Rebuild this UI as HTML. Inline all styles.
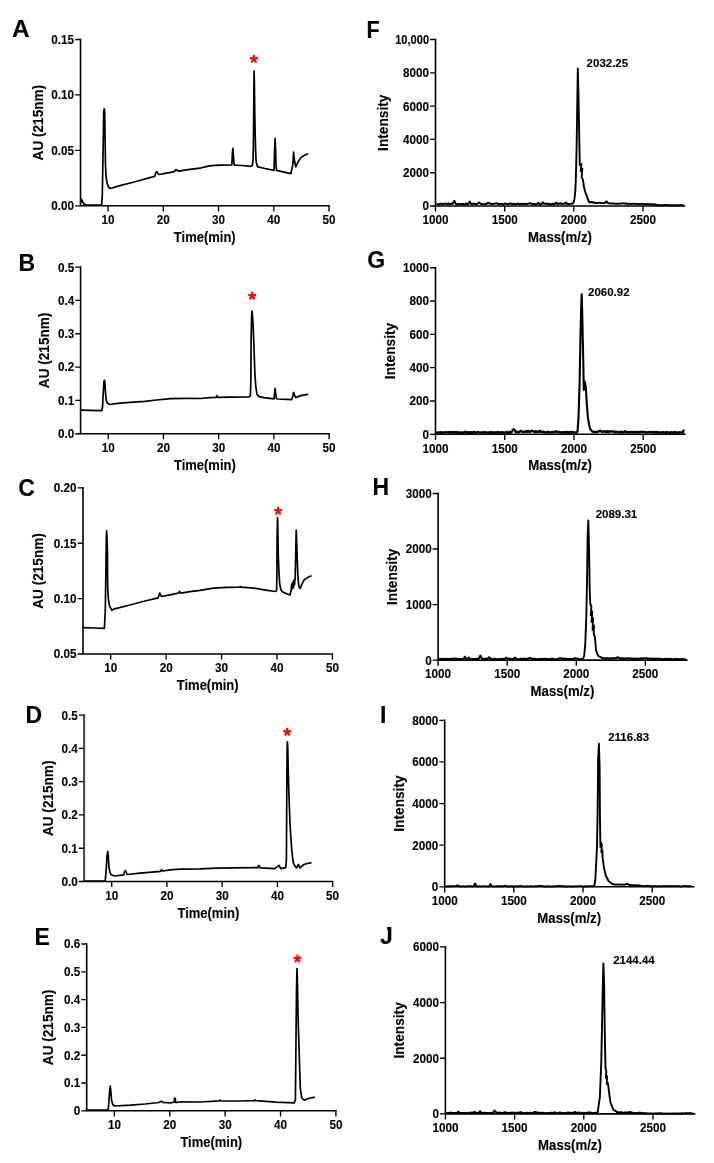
<!DOCTYPE html><html><head><meta charset="utf-8"><title>Figure</title><style>html,body{margin:0;padding:0;background:#fff;}svg{display:block;}text{font-family:"Liberation Sans", sans-serif;font-weight:bold;fill:#000;stroke:#000;stroke-width:0.12px;filter:grayscale(1);}</style></head><body>
<svg width="714" height="1163" viewBox="0 0 714 1163">
<rect width="714" height="1163" fill="#fff"/>
<g><path d="M80.5 39.5V205.8H329" fill="none" stroke="#000" stroke-width="1.6" stroke-linejoin="miter" stroke-linecap="square"/><text transform="translate(74.1 210.2) scale(1 1.03)" font-size="11.7" text-anchor="end">0.00</text><text transform="translate(74.1 154.77) scale(1 1.03)" font-size="11.7" text-anchor="end">0.05</text><text transform="translate(74.1 99.33) scale(1 1.03)" font-size="11.7" text-anchor="end">0.10</text><text transform="translate(74.1 43.9) scale(1 1.03)" font-size="11.7" text-anchor="end">0.15</text><text transform="translate(108.11 224.1) scale(1 1.03)" font-size="11.7" text-anchor="middle">10</text><text transform="translate(163.33 224.1) scale(1 1.03)" font-size="11.7" text-anchor="middle">20</text><text transform="translate(218.56 224.1) scale(1 1.03)" font-size="11.7" text-anchor="middle">30</text><text transform="translate(273.78 224.1) scale(1 1.03)" font-size="11.7" text-anchor="middle">40</text><text transform="translate(329 224.1) scale(1 1.03)" font-size="11.7" text-anchor="middle">50</text><path d="M75.1 205.8H80.5M75.1 150.37H80.5M75.1 94.93H80.5M75.1 39.5H80.5M108.11 205.8V211.4M163.33 205.8V211.4M218.56 205.8V211.4M273.78 205.8V211.4M329 205.8V211.4" fill="none" stroke="#000" stroke-width="1.35"/><text transform="translate(204.75 241.8) scale(1 1.06)" font-size="13.0" text-anchor="middle">Time(min)</text><text transform="translate(42.7 122.65) rotate(-90) scale(1 1.08)" font-size="13.6" text-anchor="middle">AU (215nm)</text><text transform="translate(12 37.1) scale(1.06 1)" font-size="23">A</text><polyline points="80.6,203 80.9,200 81.4,199.3 82.2,200.6 83,202.6 84.2,204.1 86,204.8 90,205.1 101.6,205.2 102.3,195 103.1,150 103.7,112 104.2,108.8 104.7,112 105.1,140 105.5,165.6 106.2,177.6 107.2,183.5 108.5,187 110,188.3 112,188 120,185.6 135,181.8 150,177.6 154.8,176.2 155.6,173.5 156.5,171.6 157.4,172.2 158.3,174.2 159.5,174.5 165,173.4 172,172.2 174.5,171.4 176,169.5 177.5,170.6 179,171.2 188,169.6 200,168.2 205,166.8 210,165.9 215,165.4 220.2,165.2 231.8,165 232.3,155 232.8,148.4 233.4,155 233.9,163.5 234.5,165.2 242,165.5 250.4,166.4 252.4,165.4 253,160 253.3,150 253.6,125 253.9,90 254.1,71.1 254.4,85 254.8,115 255.2,135 255.6,150 255.9,158 256.4,163 257.2,165.8 258,166.9 265,168.5 274,170.3 274.6,150 275.1,138.3 275.6,150 276,165 276.5,170.3 283,171.8 290.8,173.6 292.8,165 293.6,152.1 294.4,160 295.8,166.9 298,162 300.8,157.6 304,155.5 307.6,154" fill="none" stroke="#000" stroke-width="1.7" stroke-linejoin="round" stroke-linecap="round"/><path d="M253.9 59.1L253.9 55.9M253.9 59.1L256.94 58.11M253.9 59.1L255.78 61.69M253.9 59.1L252.02 61.69M253.9 59.1L250.86 58.11" stroke="#f00" stroke-width="2.2" stroke-linecap="round" fill="none"/></g>
<g><path d="M80.6 267.1V433.7H329.1" fill="none" stroke="#000" stroke-width="1.6" stroke-linejoin="miter" stroke-linecap="square"/><text transform="translate(74.2 438.1) scale(1 1.03)" font-size="11.7" text-anchor="end">0.0</text><text transform="translate(74.2 404.78) scale(1 1.03)" font-size="11.7" text-anchor="end">0.1</text><text transform="translate(74.2 371.46) scale(1 1.03)" font-size="11.7" text-anchor="end">0.2</text><text transform="translate(74.2 338.14) scale(1 1.03)" font-size="11.7" text-anchor="end">0.3</text><text transform="translate(74.2 304.82) scale(1 1.03)" font-size="11.7" text-anchor="end">0.4</text><text transform="translate(74.2 271.5) scale(1 1.03)" font-size="11.7" text-anchor="end">0.5</text><text transform="translate(108.21 452) scale(1 1.03)" font-size="11.7" text-anchor="middle">10</text><text transform="translate(163.43 452) scale(1 1.03)" font-size="11.7" text-anchor="middle">20</text><text transform="translate(218.66 452) scale(1 1.03)" font-size="11.7" text-anchor="middle">30</text><text transform="translate(273.88 452) scale(1 1.03)" font-size="11.7" text-anchor="middle">40</text><text transform="translate(329.1 452) scale(1 1.03)" font-size="11.7" text-anchor="middle">50</text><path d="M75.2 433.7H80.6M75.2 400.38H80.6M75.2 367.06H80.6M75.2 333.74H80.6M75.2 300.42H80.6M75.2 267.1H80.6M108.21 433.7V439.3M163.43 433.7V439.3M218.66 433.7V439.3M273.88 433.7V439.3M329.1 433.7V439.3" fill="none" stroke="#000" stroke-width="1.35"/><text transform="translate(204.85 469.7) scale(1 1.06)" font-size="13.0" text-anchor="middle">Time(min)</text><text transform="translate(49 350.4) rotate(-90) scale(1 1.08)" font-size="13.6" text-anchor="middle">AU (215nm)</text><text transform="translate(18.4 271) scale(1 1)" font-size="23">B</text><polyline points="80.5,410.1 90,410.3 101.8,410.6 102.6,406 103.4,390 104,381 104.4,380.3 104.9,382 105.4,392 106.2,399.5 106.9,402.5 109.4,404.5 120,403.2 130,402.4 144.7,401.3 156.5,400 168.2,398.8 170,398.6 185,398.4 200,398.5 210,397.6 216.2,397.3 216.8,395.6 217.4,397.3 230,397.2 248.9,397 250.4,395.8 250.9,380 251.1,340 251.6,318 252,311.1 252.5,316 253.2,326.5 254,348 254.9,373.8 255.8,386.7 257,394.4 259.2,396.6 263.9,397.6 274,398.8 274.6,393 275.1,388.4 275.6,393 276.3,398.5 277.3,399 291.6,399.7 292.8,396 293.6,392.3 294.4,395 295.8,397.6 300.8,395.6 307.6,394.3" fill="none" stroke="#000" stroke-width="1.7" stroke-linejoin="round" stroke-linecap="round"/><path d="M252.2 295.9L252.2 292.7M252.2 295.9L255.24 294.91M252.2 295.9L254.08 298.49M252.2 295.9L250.32 298.49M252.2 295.9L249.16 294.91" stroke="#f00" stroke-width="2.2" stroke-linecap="round" fill="none"/></g>
<g><path d="M83 487.9V654H332.4" fill="none" stroke="#000" stroke-width="1.6" stroke-linejoin="miter" stroke-linecap="square"/><text transform="translate(76.6 658.4) scale(1 1.03)" font-size="11.7" text-anchor="end">0.05</text><text transform="translate(76.6 603.03) scale(1 1.03)" font-size="11.7" text-anchor="end">0.10</text><text transform="translate(76.6 547.67) scale(1 1.03)" font-size="11.7" text-anchor="end">0.15</text><text transform="translate(76.6 492.3) scale(1 1.03)" font-size="11.7" text-anchor="end">0.20</text><text transform="translate(110.71 672.3) scale(1 1.03)" font-size="11.7" text-anchor="middle">10</text><text transform="translate(166.13 672.3) scale(1 1.03)" font-size="11.7" text-anchor="middle">20</text><text transform="translate(221.56 672.3) scale(1 1.03)" font-size="11.7" text-anchor="middle">30</text><text transform="translate(276.98 672.3) scale(1 1.03)" font-size="11.7" text-anchor="middle">40</text><text transform="translate(332.4 672.3) scale(1 1.03)" font-size="11.7" text-anchor="middle">50</text><path d="M77.6 654H83M77.6 598.63H83M77.6 543.27H83M77.6 487.9H83M110.71 654V659.6M166.13 654V659.6M221.56 654V659.6M276.98 654V659.6M332.4 654V659.6" fill="none" stroke="#000" stroke-width="1.35"/><text transform="translate(207.7 690) scale(1 1.06)" font-size="13.0" text-anchor="middle">Time(min)</text><text transform="translate(42.8 570.95) rotate(-90) scale(1 1.08)" font-size="13.6" text-anchor="middle">AU (215nm)</text><text transform="translate(18.3 495.5) scale(1 1)" font-size="23">C</text><polyline points="83.4,627.6 95,628 104.4,628.4 105.3,610 105.9,570 106.3,540 106.6,530.9 107,538 107.4,550.3 107.7,587.2 108.3,598 109.4,605.7 111.9,610.4 113.6,609.1 130,605 145,601 158.2,597.8 159.2,594.5 159.8,593.1 160.7,595 161.5,596.5 170,594.8 178.3,593.1 179.5,591.4 180.8,593.1 190,591.6 200,590.3 213.4,588.2 226.9,587.4 239.6,587.2 240.3,586.3 241,587.2 253.8,588.2 267.2,590.3 275.6,591.5 276.6,590.5 276.9,575 277.1,540 277.5,517.6 277.9,530 278.2,553.7 279,572.6 279.7,584 280.9,590 283.2,592.3 286.5,593.8 290,595 291.2,590 291.7,584 292.2,589 292.8,582 293.4,588 294,580 294.5,585 295.2,577 295.6,560 295.9,545 296.2,530.2 296.6,540 297.2,557.5 297.9,576.4 298.5,583 299.1,587 300.2,588.5 301.7,584.7 304,580.2 307,577.8 310.9,576" fill="none" stroke="#000" stroke-width="1.7" stroke-linejoin="round" stroke-linecap="round"/><path d="M278.1 511L278.1 507.8M278.1 511L281.14 510.01M278.1 511L279.98 513.59M278.1 511L276.22 513.59M278.1 511L275.06 510.01" stroke="#f00" stroke-width="2.2" stroke-linecap="round" fill="none"/></g>
<g><path d="M84.1 714.3V881.5" fill="none" stroke="#4a4a4a" stroke-width="2.1"/><path d="M83.8 881.5H332.6" fill="none" stroke="#000" stroke-width="1.6" stroke-linecap="square"/><text transform="translate(77.7 885.9) scale(1 1.03)" font-size="11.7" text-anchor="end">0.0</text><text transform="translate(77.7 852.62) scale(1 1.03)" font-size="11.7" text-anchor="end">0.1</text><text transform="translate(77.7 819.34) scale(1 1.03)" font-size="11.7" text-anchor="end">0.2</text><text transform="translate(77.7 786.06) scale(1 1.03)" font-size="11.7" text-anchor="end">0.3</text><text transform="translate(77.7 752.78) scale(1 1.03)" font-size="11.7" text-anchor="end">0.4</text><text transform="translate(77.7 719.5) scale(1 1.03)" font-size="11.7" text-anchor="end">0.5</text><text transform="translate(111.71 899.8) scale(1 1.03)" font-size="11.7" text-anchor="middle">10</text><text transform="translate(166.93 899.8) scale(1 1.03)" font-size="11.7" text-anchor="middle">20</text><text transform="translate(222.16 899.8) scale(1 1.03)" font-size="11.7" text-anchor="middle">30</text><text transform="translate(277.38 899.8) scale(1 1.03)" font-size="11.7" text-anchor="middle">40</text><text transform="translate(332.6 899.8) scale(1 1.03)" font-size="11.7" text-anchor="middle">50</text><path d="M78.7 881.5H84.1M78.7 848.22H84.1M78.7 814.94H84.1M78.7 781.66H84.1M78.7 748.38H84.1M78.7 715.1H84.1M111.71 881.5V887.1M166.93 881.5V887.1M222.16 881.5V887.1M277.38 881.5V887.1M332.6 881.5V887.1" fill="none" stroke="#000" stroke-width="1.35"/><text transform="translate(208.35 917.5) scale(1 1.06)" font-size="13.0" text-anchor="middle">Time(min)</text><text transform="translate(53 798.3) rotate(-90) scale(1 1.08)" font-size="13.6" text-anchor="middle">AU (215nm)</text><text transform="translate(25.6 723.2) scale(1 1)" font-size="23">D</text><polyline points="84,881 95,881 105.2,881 106.2,870 107,856 107.7,851.3 108.3,856 108.9,867.2 110,872.5 111.1,874.8 114.5,876 123.7,874.8 124.6,871.5 125.4,870.6 126.2,872 127.1,874.5 140,873.2 160.7,871.4 161.5,869.7 162.5,871 172.4,869.7 180.8,869.2 200,868.9 216.8,868.2 233.6,867.9 258,867.6 258.8,865.4 260.5,867.9 274.8,868.7 279,865.4 280.7,868.7 285.7,867.6 286.4,860 286.8,790 287.1,750 287.4,741.8 287.8,748 288.2,770 288.7,787.2 289.3,805 289.9,820.8 290.7,835 291.6,847.7 292.4,856 293.3,862.9 295,866.2 296.6,867.9 298.3,864.5 300,867.9 302,866 304.2,864.5 307,863.5 310.9,862.9" fill="none" stroke="#000" stroke-width="1.7" stroke-linejoin="round" stroke-linecap="round"/><path d="M287.2 732.1L287.2 728.9M287.2 732.1L290.24 731.11M287.2 732.1L289.08 734.69M287.2 732.1L285.32 734.69M287.2 732.1L284.16 731.11" stroke="#f00" stroke-width="2.2" stroke-linecap="round" fill="none"/></g>
<g><path d="M86.7 944V1110.8H335.9" fill="none" stroke="#000" stroke-width="1.6" stroke-linejoin="miter" stroke-linecap="square"/><text transform="translate(80.3 1115.2) scale(1 1.03)" font-size="11.7" text-anchor="end">0</text><text transform="translate(80.3 1087.4) scale(1 1.03)" font-size="11.7" text-anchor="end">0.1</text><text transform="translate(80.3 1059.6) scale(1 1.03)" font-size="11.7" text-anchor="end">0.2</text><text transform="translate(80.3 1031.8) scale(1 1.03)" font-size="11.7" text-anchor="end">0.3</text><text transform="translate(80.3 1004) scale(1 1.03)" font-size="11.7" text-anchor="end">0.4</text><text transform="translate(80.3 976.2) scale(1 1.03)" font-size="11.7" text-anchor="end">0.5</text><text transform="translate(80.3 948.4) scale(1 1.03)" font-size="11.7" text-anchor="end">0.6</text><text transform="translate(114.39 1129.1) scale(1 1.03)" font-size="11.7" text-anchor="middle">10</text><text transform="translate(169.77 1129.1) scale(1 1.03)" font-size="11.7" text-anchor="middle">20</text><text transform="translate(225.14 1129.1) scale(1 1.03)" font-size="11.7" text-anchor="middle">30</text><text transform="translate(280.52 1129.1) scale(1 1.03)" font-size="11.7" text-anchor="middle">40</text><text transform="translate(335.9 1129.1) scale(1 1.03)" font-size="11.7" text-anchor="middle">50</text><path d="M81.3 1110.8H86.7M81.3 1083H86.7M81.3 1055.2H86.7M81.3 1027.4H86.7M81.3 999.6H86.7M81.3 971.8H86.7M81.3 944H86.7M114.39 1110.8V1116.4M169.77 1110.8V1116.4M225.14 1110.8V1116.4M280.52 1110.8V1116.4M335.9 1110.8V1116.4" fill="none" stroke="#000" stroke-width="1.35"/><text transform="translate(211.3 1146.8) scale(1 1.06)" font-size="13.0" text-anchor="middle">Time(min)</text><text transform="translate(53 1027.4) rotate(-90) scale(1 1.08)" font-size="13.6" text-anchor="middle">AU (215nm)</text><text transform="translate(34.4 945.2) scale(1 1)" font-size="23">E</text><polyline points="86.6,1110.2 100,1110.2 108.2,1110 109,1100 109.7,1090 110.3,1086.2 110.9,1092 111.6,1100.5 112.8,1104.5 114.5,1106 130.4,1105.2 145,1104 159,1102.5 160.3,1101.6 161.5,1101.3 163,1102.4 170.8,1103 174.2,1102 174.6,1098 175.2,1098.5 175.8,1102.5 176.6,1102.5 180.8,1101.8 200,1102 219.3,1100.8 219.8,1100 220.5,1100.8 240,1101 254.6,1100.6 255.2,1099.8 256,1100.6 275.6,1102.1 294.1,1102.9 295.4,1100 296,1040 296.5,990 297,968.5 297.5,985 298,1013.9 298.6,1034 299.2,1054.2 299.8,1073 300.3,1087.8 301.7,1097.9 304.2,1100.1 307.6,1098.7 311,1097.8 314.3,1097.4" fill="none" stroke="#000" stroke-width="1.7" stroke-linejoin="round" stroke-linecap="round"/><path d="M297.4 958.7L297.4 955.5M297.4 958.7L300.44 957.71M297.4 958.7L299.28 961.29M297.4 958.7L295.52 961.29M297.4 958.7L294.36 957.71" stroke="#f00" stroke-width="2.2" stroke-linecap="round" fill="none"/></g>
<g><path d="M435.5 39.5V206H684.5" fill="none" stroke="#000" stroke-width="1.6" stroke-linejoin="miter" stroke-linecap="square"/><text transform="translate(429.1 210.4) scale(1 1.03)" font-size="11.7" text-anchor="end">0</text><text transform="translate(429.1 177.1) scale(1 1.03)" font-size="11.7" text-anchor="end">2000</text><text transform="translate(429.1 143.8) scale(1 1.03)" font-size="11.7" text-anchor="end">4000</text><text transform="translate(429.1 110.5) scale(1 1.03)" font-size="11.7" text-anchor="end">6000</text><text transform="translate(429.1 77.2) scale(1 1.03)" font-size="11.7" text-anchor="end">8000</text><text transform="translate(429.1 43.9) scale(0.95 1.03)" font-size="11.7" text-anchor="end">10,000</text><text transform="translate(435.5 224.3) scale(1 1.03)" font-size="11.7" text-anchor="middle">1000</text><text transform="translate(504.67 224.3) scale(1 1.03)" font-size="11.7" text-anchor="middle">1500</text><text transform="translate(573.83 224.3) scale(1 1.03)" font-size="11.7" text-anchor="middle">2000</text><text transform="translate(643 224.3) scale(1 1.03)" font-size="11.7" text-anchor="middle">2500</text><path d="M430.1 206H435.5M430.1 172.7H435.5M430.1 139.4H435.5M430.1 106.1H435.5M430.1 72.8H435.5M430.1 39.5H435.5M435.5 206V211.6M504.67 206V211.6M573.83 206V211.6M643 206V211.6" fill="none" stroke="#000" stroke-width="1.35"/><text transform="translate(560 242) scale(1 1.06)" font-size="13.2" text-anchor="middle">Mass(m/z)</text><text transform="translate(387.7 122.75) rotate(-90) scale(1 1.08)" font-size="13.7" text-anchor="middle">Intensity</text><text transform="translate(366.6 37.9) scale(0.94 1)" font-size="23">F</text><text transform="translate(586.6 66.9) scale(1 0.98)" font-size="11.5">2032.25</text></g>
<g><path d="M435.5 267.7V434.3H684.7" fill="none" stroke="#000" stroke-width="1.6" stroke-linejoin="miter" stroke-linecap="square"/><text transform="translate(429.1 438.7) scale(1 1.03)" font-size="11.7" text-anchor="end">0</text><text transform="translate(429.1 405.38) scale(1 1.03)" font-size="11.7" text-anchor="end">200</text><text transform="translate(429.1 372.06) scale(1 1.03)" font-size="11.7" text-anchor="end">400</text><text transform="translate(429.1 338.74) scale(1 1.03)" font-size="11.7" text-anchor="end">600</text><text transform="translate(429.1 305.42) scale(1 1.03)" font-size="11.7" text-anchor="end">800</text><text transform="translate(429.1 272.1) scale(1 1.03)" font-size="11.7" text-anchor="end">1000</text><text transform="translate(435.5 452.6) scale(1 1.03)" font-size="11.7" text-anchor="middle">1000</text><text transform="translate(504.72 452.6) scale(1 1.03)" font-size="11.7" text-anchor="middle">1500</text><text transform="translate(573.94 452.6) scale(1 1.03)" font-size="11.7" text-anchor="middle">2000</text><text transform="translate(643.17 452.6) scale(1 1.03)" font-size="11.7" text-anchor="middle">2500</text><path d="M430.1 434.3H435.5M430.1 400.98H435.5M430.1 367.66H435.5M430.1 334.34H435.5M430.1 301.02H435.5M430.1 267.7H435.5M435.5 434.3V439.9M504.72 434.3V439.9M573.94 434.3V439.9M643.17 434.3V439.9" fill="none" stroke="#000" stroke-width="1.35"/><text transform="translate(560.1 470.3) scale(1 1.06)" font-size="13.2" text-anchor="middle">Mass(m/z)</text><text transform="translate(394.9 351) rotate(-90) scale(1 1.08)" font-size="13.7" text-anchor="middle">Intensity</text><text transform="translate(367.2 267.6) scale(1 1)" font-size="23">G</text><text transform="translate(588 296) scale(1 0.98)" font-size="11.5">2060.92</text></g>
<g><path d="M438.1 493.5V660.1H686.8" fill="none" stroke="#000" stroke-width="1.6" stroke-linejoin="miter" stroke-linecap="square"/><text transform="translate(431.7 664.5) scale(1 1.03)" font-size="11.7" text-anchor="end">0</text><text transform="translate(431.7 608.97) scale(1 1.03)" font-size="11.7" text-anchor="end">1000</text><text transform="translate(431.7 553.43) scale(1 1.03)" font-size="11.7" text-anchor="end">2000</text><text transform="translate(431.7 497.9) scale(1 1.03)" font-size="11.7" text-anchor="end">3000</text><text transform="translate(438.1 678.4) scale(1 1.03)" font-size="11.7" text-anchor="middle">1000</text><text transform="translate(507.18 678.4) scale(1 1.03)" font-size="11.7" text-anchor="middle">1500</text><text transform="translate(576.27 678.4) scale(1 1.03)" font-size="11.7" text-anchor="middle">2000</text><text transform="translate(645.35 678.4) scale(1 1.03)" font-size="11.7" text-anchor="middle">2500</text><path d="M432.7 660.1H438.1M432.7 604.57H438.1M432.7 549.03H438.1M432.7 493.5H438.1M438.1 660.1V665.7M507.18 660.1V665.7M576.27 660.1V665.7M645.35 660.1V665.7" fill="none" stroke="#000" stroke-width="1.35"/><text transform="translate(562.45 696.1) scale(1 1.06)" font-size="13.2" text-anchor="middle">Mass(m/z)</text><text transform="translate(397 576.8) rotate(-90) scale(1 1.08)" font-size="13.7" text-anchor="middle">Intensity</text><text transform="translate(372.5 495.45) scale(1 1)" font-size="23">H</text><text transform="translate(595.7 517.8) scale(1 0.98)" font-size="11.5">2089.31</text></g>
<g><path d="M444.7 720.3V886.8H693.7" fill="none" stroke="#000" stroke-width="1.6" stroke-linejoin="miter" stroke-linecap="square"/><text transform="translate(438.3 891.2) scale(1 1.03)" font-size="11.7" text-anchor="end">0</text><text transform="translate(438.3 849.57) scale(1 1.03)" font-size="11.7" text-anchor="end">2000</text><text transform="translate(438.3 807.95) scale(1 1.03)" font-size="11.7" text-anchor="end">4000</text><text transform="translate(438.3 766.32) scale(1 1.03)" font-size="11.7" text-anchor="end">6000</text><text transform="translate(438.3 724.7) scale(1 1.03)" font-size="11.7" text-anchor="end">8000</text><text transform="translate(444.7 905.1) scale(1 1.03)" font-size="11.7" text-anchor="middle">1000</text><text transform="translate(513.87 905.1) scale(1 1.03)" font-size="11.7" text-anchor="middle">1500</text><text transform="translate(583.03 905.1) scale(1 1.03)" font-size="11.7" text-anchor="middle">2000</text><text transform="translate(652.2 905.1) scale(1 1.03)" font-size="11.7" text-anchor="middle">2500</text><path d="M439.3 886.8H444.7M439.3 845.17H444.7M439.3 803.55H444.7M439.3 761.92H444.7M439.3 720.3H444.7M444.7 886.8V892.4M513.87 886.8V892.4M583.03 886.8V892.4M652.2 886.8V892.4" fill="none" stroke="#000" stroke-width="1.35"/><text transform="translate(569.2 922.8) scale(1 1.06)" font-size="13.2" text-anchor="middle">Mass(m/z)</text><text transform="translate(403.7 803.55) rotate(-90) scale(1 1.08)" font-size="13.7" text-anchor="middle">Intensity</text><text transform="translate(380.1 723.2) scale(1 1)" font-size="23">I</text><text transform="translate(608.2 741.1) scale(1 0.98)" font-size="11.5">2116.83</text></g>
<g><path d="M445.4 946.9V1113.9H694.5" fill="none" stroke="#000" stroke-width="1.6" stroke-linejoin="miter" stroke-linecap="square"/><text transform="translate(439 1118.3) scale(1 1.03)" font-size="11.7" text-anchor="end">0</text><text transform="translate(439 1062.63) scale(1 1.03)" font-size="11.7" text-anchor="end">2000</text><text transform="translate(439 1006.97) scale(1 1.03)" font-size="11.7" text-anchor="end">4000</text><text transform="translate(439 951.3) scale(1 1.03)" font-size="11.7" text-anchor="end">6000</text><text transform="translate(445.4 1132.2) scale(1 1.03)" font-size="11.7" text-anchor="middle">1000</text><text transform="translate(514.59 1132.2) scale(1 1.03)" font-size="11.7" text-anchor="middle">1500</text><text transform="translate(583.79 1132.2) scale(1 1.03)" font-size="11.7" text-anchor="middle">2000</text><text transform="translate(652.98 1132.2) scale(1 1.03)" font-size="11.7" text-anchor="middle">2500</text><path d="M440 1113.9H445.4M440 1058.23H445.4M440 1002.57H445.4M440 946.9H445.4M445.4 1113.9V1119.5M514.59 1113.9V1119.5M583.79 1113.9V1119.5M652.98 1113.9V1119.5" fill="none" stroke="#000" stroke-width="1.35"/><text transform="translate(569.95 1149.9) scale(1 1.06)" font-size="13.2" text-anchor="middle">Mass(m/z)</text><text transform="translate(404.4 1030.4) rotate(-90) scale(1 1.08)" font-size="13.7" text-anchor="middle">Intensity</text><text transform="translate(380 944.35) scale(1 1)" font-size="23">J</text><rect x="383.6" y="926.5" width="3.5" height="4.9" fill="#fff"/><text transform="translate(613.2 963.9) scale(1 0.98)" font-size="11.5">2144.44</text></g>
<polyline points="436.3,203.72 436.8,203.8 437.3,204.09 437.8,204.22 438.3,204.31 438.8,204.14 439.3,204.32 439.8,204.22 440.3,203.8 440.8,203.84 441.3,203.55 441.8,204.07 442.3,204.4 442.8,204.11 443.3,203.91 443.8,204.16 444.3,203.86 444.8,203.66 445.3,203.55 445.8,203.61 446.3,203.86 446.8,204.27 447.3,203.79 447.8,203.76 448.3,203.26 448.8,203.68 449.3,204.25 449.8,204 450.3,204.14 450.8,203.79 451.3,203.48 451.8,203.61 452.3,203.95 452.8,203.82 453.3,202.73 453.8,201.49 454.3,200.81 454.8,201.39 455.3,202.93 455.8,203.87 456.3,204.35 456.8,203.93 457.3,204 457.8,204.37 458.3,204.31 458.8,204.36 459.3,204.43 459.8,204.27 460.3,203.99 460.8,204.07 461.3,204.06 461.8,203.91 462.3,204.23 462.8,204.03 463.3,204 463.8,204.21 464.3,204.37 464.8,204.5 465.3,204.23 465.8,203.39 466.3,203.32 466.8,203.84 467.3,204.27 467.8,204.44 468.3,204.09 468.8,203.3 469.3,202.2 469.8,201.45 470.3,202.5 470.8,203.77 471.3,203.82 471.8,204.14 472.3,204.25 472.8,203.85 473.3,203.56 473.8,203.81 474.3,203.66 474.8,203.65 475.3,203.88 475.8,204.05 476.3,204.23 476.8,204.19 477.3,203.97 477.8,203.5 478.3,203.01 478.8,202.45 479.3,202.49 479.8,203.21 480.3,203.49 480.8,203.72 481.3,204.2 481.8,204.04 482.3,204.2 482.8,204.21 483.3,204.25 483.8,204.13 484.3,204.12 484.8,204.23 485.3,203.87 485.8,204.15 486.3,204.35 486.8,203.69 487.3,203.2 487.8,202.84 488.3,202.72 488.8,202.96 489.3,203.59 489.8,203.52 490.3,203.38 490.8,203.98 491.3,203.91 491.8,203.98 492.3,203.97 492.8,203.86 493.3,203.88 493.8,203.68 494.3,203.87 494.8,203.72 495.3,203.52 495.8,203.34 496.3,203.2 496.8,203.45 497.3,203.51 497.8,204.1 498.3,204.07 498.8,203.91 499.3,204.12 499.8,203.83 500.3,204.29 500.8,204.09 501.3,203.87 501.8,203.74 502.3,203.69 502.8,204.16 503.3,204.49 503.8,204.34 504.3,203.99 504.8,203.61 505.3,203.43 505.8,203.5 506.3,203.81 506.8,203.99 507.3,204.27 507.8,204.4 508.3,204.05 508.8,204 509.3,203.66 509.8,203.65 510.3,203.33 510.8,203.93 511.3,203.62 511.8,203.92 512.3,203.85 512.8,204.16 513.3,203.81 513.8,204.2 514.3,203.73 514.8,204.02 515.3,204.17 515.8,204.11 516.3,203.81 516.8,203.79 517.3,203.83 517.8,203.67 518.3,203.53 518.8,203.99 519.3,204.03 519.8,203.84 520.3,204 520.8,204.11 521.3,203.78 521.8,203.93 522.3,204.03 522.8,203.71 523.3,203.67 523.8,204.09 524.3,204.12 524.8,203.85 525.3,203.83 525.8,203.86 526.3,204.08 526.8,204.34 527.3,203.87 527.8,203.57 528.3,203.69 528.8,203.44 529.3,203.39 529.8,203.32 530.3,203.27 530.8,203.66 531.3,203.48 531.8,203.74 532.3,204.21 532.8,203.84 533.3,204.11 533.8,204.13 534.3,203.82 534.8,204.25 535.3,204.34 535.8,204.11 536.3,204.37 536.8,203.88 537.3,204.01 537.8,203.74 538.3,202.79 538.8,203.22 539.3,203.85 539.8,204.42 540.3,204.14 540.8,204.27 541.3,204.29 541.8,203.68 542.3,202.72 542.8,202.25 543.3,202.9 543.8,203.57 544.3,203.56 544.8,203.86 545.3,203.57 545.8,203.72 546.3,203.84 546.8,203.67 547.3,203.44 547.8,203.99 548.3,204.27 548.8,204.23 549.3,203.77 549.8,203.88 550.3,204.29 550.8,204.39 551.3,204.38 551.8,203.86 552.3,203.98 552.8,203.78 553.3,204.25 553.8,203.76 554.3,203.63 554.8,204.04 555.3,203.5 555.8,202.99 556.3,202.57 556.8,203.2 557.3,203.81 557.8,204.37 558.3,204.02 558.8,203.63 559.3,203.37 559.8,203.22 560.3,203.01 560.8,203.6 561.3,204.1 561.8,203.85 562.3,203.8 562.8,203.65 563.3,203.6 563.8,203.89 564.3,203.85 564.8,203.87 565.3,202.83 565.8,202.62 566.3,202.39 566.8,203.36 567.3,204.12 567.8,203.8 568.3,203.93 568.8,204.34 569.3,203.81 569.8,203.88 570.3,203.87 570.8,203.83 571.3,203.66 571.8,203.54 572.3,203.54 572.5,203.8 573.5,202.6 574.4,199.5 575.3,191.2 575.8,180 576.2,165 576.6,148 577,122 577.4,95 577.8,68.4 578.4,92 578.9,118 579.3,140 579.6,155 579.8,165 581.5,164 580.6,171 582.4,168.5 581.6,177.5 582.8,179.2 584,187 585,191.2 586.5,195.4 587.7,199 589.2,202.4 591.9,202 594.9,203 594.9,202.8 595.4,202.76 595.9,202.97 596.4,202.84 596.9,203.09 597.4,202.98 597.9,202.81 598.4,202.9 598.9,202.84 599.4,202.74 599.9,202.81 600.4,202.93 600.9,202.89 601.4,203.16 601.9,203.08 602.4,203.22 602.9,203.15 603.4,203 603.9,203.06 604.4,203.14 604.9,202.9 605.4,202.44 605.9,201.65 606.4,201.36 606.9,201.73 607.4,202.49 607.9,203.16 608.4,203.26 608.9,203.46 609.4,203.26 609.9,203.19 610.4,203.35 610.9,203.5 611.4,203.6 611.9,203.38 612.4,203.42 612.9,203.32 613.4,203.49 613.9,203.52 614.4,203.6 614.9,203.69 615.4,203.83 615.9,203.7 616.4,203.86 616.9,203.64 617.4,203.78 617.9,203.53 618.4,203.65 618.9,203.8 619.4,203.74 619.9,203.59 620.4,203.66 620.9,203.64 621.4,203.55 621.9,203.34 622.4,203.35 622.9,203.22 623.4,203.43 623.9,203.49 624.4,203.68 624.9,203.51 625.4,203.59 625.9,203.5 626.4,203.55 626.9,203.86 627.4,203.96 627.9,203.97 628.4,203.86 628.9,203.68 629.4,203.55 629.9,203.7 630.4,203.99 630.9,204.06 631.4,203.87 631.9,204.1 632.4,203.92 632.9,203.73 633.4,203.83 633.9,203.86 634.4,203.72 634.9,204.02 635.4,203.92 635.9,203.92 636.4,203.76 636.9,203.66 637.4,204.02 637.9,204.25 638.4,204.24 638.9,203.98 639.4,203.88 639.9,203.82 640.4,203.73 640.9,204.03 641.4,204.06 641.9,203.9 642.4,203.91 642.9,204.01 643.4,204.1 643.9,204.15 644.4,204.02 644.9,204.25 645.4,204.07 645.9,204.13 646.4,204.29 646.9,204.12 647.4,203.98 647.9,204.33 648.4,204.42 648.9,204.25 649.4,204.36 649.9,204.19 650.4,204.41 650.9,204.2 651.4,204.11 651.9,204.11 652.4,204.29 652.9,204.52 653.4,204.38 653.9,204.53 654.4,204.47 654.9,204.46 655.4,204.56 655.9,204.43 656.4,205.25 656.9,205.16 657.4,205.03 657.9,205.16 658.4,205.18 658.9,204.99 659.4,205.27 659.9,205.36 660.4,205.27 660.9,205.37 661.4,205.42 661.9,205.13 662.4,204.96 662.9,205.05 663.4,205.08 663.9,205.2 664.4,205.05 664.9,204.95 665.4,205 665.9,205.29 666.4,205.04 666.9,205.31 667.4,205.31 667.9,205.2 668.4,205.02 668.9,205.07 669.4,205.09 669.9,204.94 670.4,205 670.9,205.27 671.4,205.44 671.9,205.43 672.4,205.29 672.9,205.42 673.4,205.13 673.9,205.25 674.4,205.32 674.9,205.12 675.4,205.09 675.9,205.1 676.4,205.27 676.9,205.28 677.4,205.13 677.9,205.3 678.4,205.25 678.9,205.36 679.4,205.23 679.9,205.15 680.4,205.1 680.9,204.99 681.4,205.19 681.9,205.26 682.4,205.19 682.9,205.24 683.4,205.31 683.9,205.47" fill="none" stroke="#000" stroke-width="1.9" stroke-linejoin="round"/>
<polyline points="436.3,432.69 436.65,432.27 437,433.06 437.35,433.17 437.7,432.67 438.05,432.8 438.4,432.31 438.75,432.22 439.1,432.28 439.45,432.75 439.8,432.3 440.15,433.06 440.5,432.2 440.85,432.17 441.2,432.04 441.55,432.78 441.9,432.48 442.25,432.53 442.6,432.38 442.95,432.7 443.3,432.5 443.65,432.24 444,432.43 444.35,432.32 444.7,432.04 445.05,432.65 445.4,432.38 445.75,432.09 446.1,432.27 446.45,431.97 446.8,432.14 447.15,432.36 447.5,432.42 447.85,432.74 448.2,432.05 448.55,432.43 448.9,432.58 449.25,432.4 449.6,432 449.95,432.69 450.3,432.04 450.65,432.54 451,432.17 451.35,431.96 451.7,432.09 452.05,431.98 452.4,432.05 452.75,432.66 453.1,432.81 453.45,432.32 453.8,432.34 454.15,431.9 454.5,431.76 454.85,432.32 455.2,432.06 455.55,432.81 455.9,432.81 456.25,432.82 456.6,432.05 456.95,431.99 457.3,431.91 457.65,432.25 458,433 458.35,433.06 458.7,433.04 459.05,432.22 459.4,432.72 459.75,432.89 460.1,432.97 460.45,432.96 460.8,432.23 461.15,432.12 461.5,432.79 461.85,432.86 462.2,433.05 462.55,432.58 462.9,432.99 463.25,432.22 463.6,432.97 463.95,432.96 464.3,432.18 464.65,431.54 465,431.89 465.35,432.25 465.7,432.13 466.05,431.91 466.4,432.15 466.75,432.82 467.1,432.13 467.45,432.95 467.8,432.33 468.15,432.16 468.5,432.02 468.85,432.97 469.2,433.07 469.55,432.43 469.9,432.05 470.25,432.61 470.6,432.98 470.95,432.07 471.3,432.58 471.65,432.94 472,432.56 472.35,432.6 472.7,432.82 473.05,432.08 473.4,431.71 473.75,431.82 474.1,431.72 474.45,431.92 474.8,432.01 475.15,432.86 475.5,432.34 475.85,432.68 476.2,432.99 476.55,432.5 476.9,432.01 477.25,432.1 477.6,431.94 477.95,432 478.3,431.98 478.65,432.23 479,432.31 479.35,432.41 479.7,432.67 480.05,432.74 480.4,432.76 480.75,432.4 481.1,432.67 481.45,432.59 481.8,432.1 482.15,432.47 482.5,432.29 482.85,432.66 483.2,432.8 483.55,432.27 483.9,432.38 484.25,432.42 484.6,432.25 484.95,431.93 485.3,431.87 485.65,432.93 486,432.85 486.35,432.5 486.7,432.68 487.05,432.27 487.4,432.68 487.75,433.04 488.1,432.91 488.45,432.53 488.8,433.04 489.15,433.07 489.5,432.11 489.85,432.31 490.2,432.4 490.55,432.21 490.9,432.56 491.25,432.1 491.6,432.68 491.95,432.92 492.3,432.07 492.65,432.61 493,432.24 493.35,432.59 493.7,432.71 494.05,433.06 494.4,432.93 494.75,432.38 495.1,432.71 495.45,432.12 495.8,432.64 496.15,432.41 496.5,432.19 496.85,432.12 497.2,432.08 497.55,432.72 497.9,432.06 498.25,432.08 498.6,432.04 498.95,431.99 499.3,432.62 499.65,432.59 500,432.67 500.35,432.95 500.7,432.49 501.05,431.94 501.4,431.99 501.75,432.37 502.1,432.67 502.45,432.96 502.8,432.55 503.15,432.15 503.5,432.48 503.85,432.93 504.2,432.34 504.55,432.89 504.9,432.97 505.25,432.61 505.6,432.43 505.95,431.99 506.3,431.88 506.65,431.77 507,432.39 507.35,432.62 507.7,432.98 508.05,432.61 508.4,432.97 508.75,432.37 509.1,431.94 509.45,431.76 509.8,431.98 510.15,432.28 510.5,432.84 510.85,432.14 511.2,431.86 511.55,432.19 511.9,431.57 512.25,431.15 512.6,429.98 512.95,429.91 513.3,429.53 513.65,429.2 514,429.67 514.35,429.66 514.7,429.96 515.05,430.84 515.4,432.01 515.75,431.93 516.1,431.68 516.45,431.59 516.8,431.58 517.15,431.88 517.5,432.47 517.85,432.52 518.2,432.38 518.55,432.33 518.9,431.66 519.25,432.14 519.6,431.53 519.95,431.6 520.3,430.84 520.65,431.47 521,430.67 521.35,431.13 521.7,431.48 522.05,431.7 522.4,431.88 522.75,431.59 523.1,432.01 523.45,432.24 523.8,431.92 524.15,432.25 524.5,432.15 524.85,431.23 525.2,431.72 525.55,431.16 525.9,431.68 526.25,431.44 526.6,431.93 526.95,431.11 527.3,431.95 527.65,431.1 528,430.94 528.35,430.84 528.7,430.95 529.05,431.94 529.4,431.97 529.75,432.06 530.1,431.23 530.45,431.58 530.8,431.65 531.15,431.4 531.5,430.61 531.85,431.12 532.2,431.01 532.55,431.14 532.9,430.94 533.25,431.2 533.6,431.74 533.95,431.61 534.3,431.57 534.65,432.06 535,431.6 535.35,432.02 535.7,431.2 536.05,431.59 536.4,431.89 536.75,431.17 537.1,431.81 537.45,431.49 537.8,431.82 538.15,431.88 538.5,431.32 538.85,432.04 539.2,431.27 539.55,430.87 539.9,431.08 540.25,430.77 540.6,430.9 540.95,431.83 541.3,431.38 541.65,431.85 542,432.36 542.35,431.99 542.7,432.34 543.05,432.44 543.4,431.72 543.75,431.49 544.1,432.26 544.45,432.51 544.8,432.56 545.15,432.43 545.5,432.18 545.85,432.65 546.2,432.51 546.55,432.51 546.9,432.69 547.25,431.77 547.6,432.37 547.95,432.32 548.3,431.68 548.65,431.83 549,432.38 549.35,432.29 549.7,432.32 550.05,432.02 550.4,432.28 550.75,432.69 551.1,432.89 551.45,432.45 551.8,432.57 552.15,431.87 552.5,431.8 552.85,432.26 553.2,432.65 553.55,431.94 553.9,431.82 554.25,432.17 554.6,431.96 554.95,431.59 555.3,431.35 555.65,431.43 556,431.81 556.35,431.3 556.7,432.11 557.05,431.63 557.4,431.84 557.75,432.4 558.1,431.78 558.45,432.02 558.8,431.87 559.15,431.93 559.5,432.68 559.85,432.01 560.2,432.51 560.55,432.83 560.9,432.14 561.25,432.7 561.6,432.2 561.95,432.61 562.3,432.47 562.65,432.19 563,432.73 563.35,432.63 563.7,432.18 564.05,432.38 564.4,432.1 564.75,432.04 565.1,432.76 565.45,432.95 565.8,432.06 566.15,432.74 566.5,432.65 566.85,431.83 567.2,431.78 567.55,432.14 567.9,432.72 568.25,432.82 568.6,432.14 568.95,432.22 569.3,432.78 569.65,432.08 570,431.82 570.35,432.12 570.7,432.48 571.05,432.77 571.4,432.83 571.75,431.86 572.1,431.86 572.45,431.8 572.8,432.31 573.15,432.2 573.5,432.76 573.85,432.53 574.2,432.48 574.55,432.55 574.9,432.02 575.25,432.69 575.6,432.79 575.95,432.76 576.3,432.71 576.65,432.01 577,431.74 577,432.4 577.6,430.6 578.5,417.6 579.6,383.2 580.5,335 581.1,310 581.7,294.4 582.2,312 582.7,335 583.3,362.5 583.8,390 584.3,385 584.9,381.8 585.8,387.3 586.8,403.8 587.9,417.6 589.3,425.8 590.5,429.6 592,430.8 592,431.48 592.35,431.68 592.7,431.35 593.05,431.59 593.4,432.17 593.75,432.21 594.1,431.96 594.45,432.23 594.8,431.93 595.15,432.33 595.5,432.12 595.85,431.54 596.2,431.89 596.55,431.85 596.9,431.9 597.25,431.53 597.6,431.99 597.95,431.49 598.3,431.47 598.65,431.33 599,431.21 599.35,430.92 599.7,431.37 600.05,431.33 600.4,430.68 600.75,431.3 601.1,430.98 601.45,431.61 601.8,431.48 602.15,431.6 602.5,431.86 602.85,431.92 603.2,431.81 603.55,431.34 603.9,431.01 604.25,431.49 604.6,431.52 604.95,431.93 605.3,432 605.65,431.23 606,431.33 606.35,431.69 606.7,431.43 607.05,432.01 607.4,431.06 607.75,431.33 608.1,431.88 608.45,432.12 608.8,431.68 609.15,431.32 609.5,431.65 609.85,431.42 610.2,431.81 610.55,431.46 610.9,431.17 611.25,431.45 611.6,431.62 611.95,431.31 612.3,431.44 612.65,431.59 613,431.7 613.35,431.23 613.7,431.6 614.05,432.26 614.4,432.01 614.75,432.28 615.1,432.54 615.45,431.57 615.8,432.17 616.15,432.03 616.5,431.47 616.85,431.61 617.2,431.96 617.55,432 617.9,432.48 618.25,432 618.6,432.4 618.95,432.06 619.3,432.6 619.65,432.75 620,431.87 620.35,432.44 620.7,431.76 621.05,431.88 621.4,432.53 621.75,432.15 622.1,431.61 622.45,431.49 622.8,432.57 623.15,432.63 623.5,432.73 623.85,431.98 624.2,431.68 624.55,431.93 624.9,431.21 625.25,431.72 625.6,431.44 625.95,431.55 626.3,432.29 626.65,431.9 627,432.68 627.35,432.48 627.7,432.36 628.05,432.39 628.4,431.94 628.75,432.66 629.1,431.78 629.45,432.58 629.8,432.32 630.15,432.34 630.5,432.28 630.85,432.1 631.2,431.81 631.55,431.97 631.9,432.32 632.25,432.03 632.6,432.51 632.95,432.5 633.3,431.75 633.65,431.67 634,432.51 634.35,432.32 634.7,431.84 635.05,432.19 635.4,432.28 635.75,432.48 636.1,432.26 636.45,432.73 636.8,431.79 637.15,432.59 637.5,432.55 637.85,432.17 638.2,431.79 638.55,431.76 638.9,432.38 639.25,432.47 639.6,432.33 639.95,431.8 640.3,431.72 640.65,432.14 641,431.8 641.35,431.94 641.7,431.67 642.05,431.84 642.4,432.24 642.75,432.61 643.1,431.8 643.45,431.96 643.8,432.03 644.15,431.92 644.5,432.11 644.85,431.69 645.2,431.82 645.55,431.93 645.9,432.62 646.25,432.13 646.6,432.48 646.95,432.63 647.3,432.58 647.65,432.28 648,432.09 648.35,432.29 648.7,432.15 649.05,432.06 649.4,432.12 649.75,431.77 650.1,432.32 650.45,432.2 650.8,431.8 651.15,432.03 651.5,431.77 651.85,432.21 652.2,432.36 652.55,432.86 652.9,432.04 653.25,432.35 653.6,432.67 653.95,432.11 654.3,432.24 654.65,432.41 655,431.92 655.35,432.2 655.7,432.77 656.05,432.89 656.4,432.92 656.75,431.92 657.1,432.46 657.45,432.64 657.8,432.2 658.15,432.03 658.5,432.49 658.85,432.22 659.2,432.8 659.55,432.25 659.9,432.76 660.25,432.67 660.6,432.3 660.95,432.6 661.3,432.87 661.65,432.73 662,432.2 662.35,431.91 662.7,432.39 663.05,432.68 663.4,432.57 663.75,432.13 664.1,432.51 664.45,432.65 664.8,432.32 665.15,432.6 665.5,432.63 665.85,432.96 666.2,431.97 666.55,432.83 666.9,432.74 667.25,432.06 667.6,431.96 667.95,432.18 668.3,432.49 668.65,432.52 669,432.34 669.35,432.81 669.7,432.52 670.05,432.55 670.4,432.68 670.75,432.86 671.1,432.13 671.45,431.9 671.8,432.29 672.15,432.78 672.5,432.95 672.85,432.58 673.2,432.07 673.55,432.52 673.9,432.85 674.25,432.81 674.6,432.15 674.95,431.88 675.3,432.29 675.65,432.13 676,432.19 676.35,432.68 676.7,432.8 677.05,432.61 677.4,432.96 677.75,432.8 678.1,432.15 678.45,432.29 678.8,432.21 679.15,432.97 679.5,432.49 679.85,432.22 680.2,432.82 680.55,433.06 680.9,432.44 681.25,432.24 681.6,432.23 681.95,431.92 682.3,432.54 682.65,431.96 683,432.94 683.35,430.74 683.7,430.26 684.05,430.39 684.4,430.69" fill="none" stroke="#000" stroke-width="2.1" stroke-linejoin="round"/>
<polyline points="439,658.71 439.5,658.85 440,658.7 440.5,658.89 441,658.95 441.5,658.87 442,658.94 442.5,658.96 443,658.7 443.5,658.79 444,658.9 444.5,658.91 445,659.11 445.5,659.15 446,658.98 446.5,658.81 447,658.65 447.5,658.91 448,659.01 448.5,659.02 449,658.94 449.5,658.93 450,658.77 450.5,658.84 451,658.68 451.5,658.83 452,658.93 452.5,659 453,658.82 453.5,658.58 454,658.44 454.5,658.39 455,658.28 455.5,658.55 456,658.71 456.5,658.8 457,659.08 457.5,658.84 458,658.71 458.5,658.83 459,658.93 459.5,658.88 460,658.92 460.5,658.88 461,658.98 461.5,659.15 462,659.22 462.5,659.17 463,659.04 463.5,659.1 464,658.33 464.5,657.04 465,656.63 465.5,657.69 466,658.61 466.5,659.04 467,659.05 467.5,659.05 468,658.41 468.5,657.57 469,657.86 469.5,658.54 470,658.87 470.5,659.17 471,659.3 471.5,658.97 472,658.72 472.5,658.98 473,659.15 473.5,658.99 474,658.82 474.5,658.95 475,659.16 475.5,658.91 476,658.88 476.5,658.97 477,658.8 477.5,658.79 478,658.64 478.5,658.68 479,658.26 479.5,657.08 480,655.76 480.5,655.5 481,656.74 481.5,657.93 482,658.51 482.5,658.61 483,658.85 483.5,658.83 484,658.72 484.5,658.63 485,658.63 485.5,658.87 486,658.72 486.5,658.77 487,658.97 487.5,659.01 488,658.46 488.5,657.76 489,657.23 489.5,657.5 490,658.13 490.5,658.48 491,658.86 491.5,658.82 492,659.03 492.5,659.23 493,659.32 493.5,659.13 494,658.78 494.5,658.71 495,658.64 495.5,658.82 496,658.96 496.5,659.16 497,659.16 497.5,659.3 498,659.21 498.5,659.07 499,659.18 499.5,658.95 500,659.08 500.5,659.13 501,659.23 501.5,658.87 502,658.71 502.5,659.03 503,658.79 503.5,658.8 504,658.87 504.5,658.74 505,658.58 505.5,658.17 506,657.63 506.5,657.69 507,658.53 507.5,658.82 508,658.78 508.5,658.65 509,658.49 509.5,658.7 510,658.66 510.5,658.79 511,659.06 511.5,658.99 512,659.19 512.5,658.84 513,658.95 513.5,658.84 514,658.52 514.5,657.59 515,657.54 515.5,658.06 516,658.63 516.5,658.85 517,658.78 517.5,659.05 518,659.19 518.5,659.18 519,659.31 519.5,659.17 520,658.84 520.5,658.97 521,658.73 521.5,658.93 522,659 522.5,658.8 523,658.66 523.5,658.53 524,658.51 524.5,658.92 525,658.77 525.5,659.02 526,658.78 526.5,658.74 527,658.79 527.5,658.75 528,659.01 528.5,658.69 529,658.47 529.5,658.05 530,657.79 530.5,658.14 531,658.36 531.5,658.64 532,658.9 532.5,658.7 533,658.55 533.5,658.79 534,659.09 534.5,658.76 535,658.79 535.5,659.1 536,659.19 536.5,659.33 537,659.18 537.5,659.31 538,658.91 538.5,658.89 539,659.08 539.5,658.95 540,658.9 540.5,658.87 541,658.82 541.5,659.02 542,659.22 542.5,658.94 543,658.8 543.5,658.9 544,658.8 544.5,658.68 545,658.57 545.5,658.78 546,659.01 546.5,659.09 547,658.94 547.5,658.72 548,658.98 548.5,659.14 549,659.25 549.5,658.99 550,659.08 550.5,659.23 551,658.95 551.5,658.68 552,658.59 552.5,658.57 553,658.8 553.5,659.01 554,659.13 554.5,659.14 555,659.3 555.5,659.39 556,659.16 556.5,659.28 557,659.23 557.5,658.93 558,658.87 558.5,658.52 559,658.33 559.5,658.36 560,658 560.5,658.17 561,658.36 561.5,658.47 562,658.45 562.5,658.67 563,658.69 563.5,658.56 564,658.65 564.5,658.84 565,658.64 565.5,658.9 566,658.68 566.5,658.75 567,658.74 567.5,658.99 568,659.16 568.5,659.18 569,658.96 569.5,658.84 570,659.04 570.5,658.99 571,659.02 571.5,659.09 572,658.84 572.5,658.77 573,658.99 573.5,658.7 574,658.71 574.5,658.3 575,658.01 575.5,658.19 576,658.3 576.5,658.6 577,658.89 577.5,658.68 578,658.78 578.5,658.76 579,659.03 579.5,659.16 580,659.26 580.5,659.24 581,659.03 581.5,659.04 582,659.01 582.5,658.89 583,658.79 583.3,658.2 584.2,655.5 585.3,643.3 586.3,616.7 587.1,576.7 587.6,536.7 588.3,520.4 589.1,550 589.7,590 590.3,604 591.4,606.5 590.8,615 592.2,611.5 591.6,622 593,618 592.6,630 594,625.5 593.7,634 594.9,636.7 596,650 597.3,654 598.7,656.3 602,657.6 602,658.34 602.5,658.37 603,658.26 603.5,658.09 604,658.24 604.5,658.48 605,658.35 605.5,658.49 606,658.15 606.5,658.21 607,658.07 607.5,658.15 608,658.26 608.5,658.45 609,658.4 609.5,658.55 610,658.35 610.5,658.14 611,658.19 611.5,658.35 612,658.45 612.5,658.15 613,658.09 613.5,658.06 614,658.15 614.5,658.41 615,658.24 615.5,657.94 616,658.02 616.5,657.81 617,657.51 617.5,657.12 618,657.34 618.5,657.66 619,658.28 619.5,658.18 620,658.09 620.5,658.07 621,658.36 621.5,658.22 622,658.56 622.5,658.41 623,658.5 623.5,658.31 624,658.25 624.5,658.52 625,658.76 625.5,658.5 626,658.41 626.5,658.2 627,658.15 627.5,658.22 628,658.34 628.5,658.44 629,658.38 629.5,658.25 630,658.38 630.5,658.36 631,658.34 631.5,658.66 632,658.66 632.5,658.35 633,658.67 633.5,658.87 634,658.68 634.5,658.89 635,658.55 635.5,658.78 636,658.52 636.5,658.74 637,658.77 637.5,658.94 638,658.7 638.5,658.74 639,658.92 639.5,658.6 640,658.44 640.5,658.54 641,658.38 641.5,658.25 642,658.15 642.5,658.26 643,658.5 643.5,658.54 644,658.64 644.5,658.4 645,658.3 645.5,658.48 646,658.38 646.5,658.24 647,658.19 647.5,658.47 648,658.81 648.5,658.76 649,658.48 649.5,658.42 650,658.63 650.5,658.83 651,658.63 651.5,658.66 652,658.45 652.5,658.59 653,658.79 653.5,658.78 654,658.92 654.5,658.72 655,658.83 655.5,658.8 656,658.85 656.5,658.6 657,658.65 657.5,658.78 658,658.65 658.5,658.74 659,658.52 659.5,658.6 660,658.92 660.5,658.97 661,658.92 661.5,659.09 662,659.09 662.5,659 663,658.88 663.5,659.07 664,659.03 664.5,658.96 665,658.86 665.5,658.69 666,658.61 666.5,658.78 667,658.85 667.5,659.02 668,658.95 668.5,658.88 669,658.93 669.5,658.8 670,659.1 670.5,659.11 671,658.94 671.5,658.94 672,659.13 672.5,659.3 673,659.27 673.5,659.35 674,659.37 674.5,659.14 675,659.04 675.5,659 676,658.77 676.5,658.91 677,658.98 677.5,659.15 678,659.01 678.5,659.27 679,659.3 679.5,659.24 680,659.02 680.5,659.26 681,659.27 681.5,659.26 682,659.02 682.5,658.88 683,658.8 683.5,659.13 684,659.08 684.5,659.19 685,659.26 685.5,659.36 686,659.15" fill="none" stroke="#000" stroke-width="1.9" stroke-linejoin="round"/>
<polyline points="445.5,886.52 446,886.44 446.5,886.48 447,886.51 447.5,886.35 448,886.2 448.5,886.3 449,886.18 449.5,886.21 450,886.4 450.5,886.51 451,886.31 451.5,886.18 452,886.15 452.5,886.35 453,886.18 453.5,886.15 454,886.09 454.5,886.06 455,886.19 455.5,886.14 456,886.17 456.5,886.16 457,885.74 457.5,885.18 458,885.52 458.5,886.1 459,886.46 459.5,886.36 460,886.31 460.5,886.36 461,886.51 461.5,886.49 462,886.42 462.5,886.31 463,886.25 463.5,886.19 464,886.42 464.5,886.53 465,886.6 465.5,886.51 466,886.52 466.5,886.38 467,886.36 467.5,886.23 468,886.25 468.5,886.2 469,886.12 469.5,886.36 470,886.21 470.5,886.38 471,886.44 471.5,886.26 472,886.29 472.5,886.49 473,886.59 473.5,886.4 474,885.88 474.5,884.62 475,883.43 475.5,883.93 476,885.31 476.5,886.08 477,886.43 477.5,886.39 478,886.47 478.5,886.27 479,886.28 479.5,886.15 480,886.28 480.5,886.44 481,886.42 481.5,886.41 482,886.43 482.5,886.3 483,886.28 483.5,886.34 484,886.39 484.5,886.33 485,886.33 485.5,886.28 486,886.33 486.5,886.4 487,886.32 487.5,886.4 488,886.5 488.5,886.44 489,886.44 489.5,885.75 490,884.85 490.5,884.05 491,884.61 491.5,885.76 492,886.09 492.5,886.31 493,886.46 493.5,886.57 494,886.55 494.5,886.41 495,886.33 495.5,886.38 496,886.22 496.5,886.1 497,886.34 497.5,886.39 498,886.25 498.5,886.27 499,886.23 499.5,886.41 500,886.31 500.5,886.4 501,886.47 501.5,886.36 502,886.27 502.5,886.31 503,886.28 503.5,886.28 504,886.07 504.5,885.95 505,885.76 505.5,885.76 506,886.15 506.5,886.44 507,886.49 507.5,886.46 508,886.55 508.5,886.62 509,886.34 509.5,886.34 510,886.17 510.5,886.19 511,886.16 511.5,886.22 512,886.34 512.5,886.47 513,886.34 513.5,886.17 514,886.42 514.5,886.49 515,886.45 515.5,886.27 516,886.15 516.5,886.38 517,886.38 517.5,886.49 518,886.53 518.5,886.5 519,886.39 519.5,886.01 520,885.79 520.5,885.9 521,886.22 521.5,886.44 522,886.51 522.5,886.48 523,886.42 523.5,886.29 524,886.37 524.5,886.42 525,886.39 525.5,886.46 526,886.58 526.5,886.65 527,886.39 527.5,886.3 528,886.36 528.5,886.42 529,886.32 529.5,886.48 530,886.42 530.5,886.48 531,886.27 531.5,886.23 532,886.11 532.5,886.31 533,886.33 533.5,886.5 534,886.48 534.5,886.36 535,886.31 535.5,886.28 536,886.2 536.5,886.12 537,886.27 537.5,886.23 538,886.26 538.5,886.32 539,886.1 539.5,885.9 540,885.75 540.5,885.84 541,886.15 541.5,886.15 542,886.22 542.5,886.14 543,886.28 543.5,886.24 544,886.45 544.5,886.4 545,886.44 545.5,886.41 546,886.5 546.5,886.51 547,886.5 547.5,886.27 548,886.18 548.5,886.33 549,886.31 549.5,886.49 550,886.48 550.5,886.54 551,886.55 551.5,886.63 552,886.58 552.5,886.64 553,886.5 553.5,886.36 554,886.22 554.5,886.18 555,886.39 555.5,886.43 556,886.24 556.5,886.12 557,886.2 557.5,886.27 558,886.25 558.5,886.07 559,885.95 559.5,885.96 560,885.93 560.5,886.12 561,886.18 561.5,886.37 562,886.28 562.5,886.24 563,886.44 563.5,886.31 564,886.25 564.5,886.19 565,886.38 565.5,886.44 566,886.43 566.5,886.52 567,886.44 567.5,886.55 568,886.57 568.5,886.41 569,886.29 569.5,886.33 570,886.32 570.5,886.43 571,886.45 571.5,886.5 572,886.47 572.5,886.34 573,886.43 573.5,886.57 574,886.53 574.5,886.53 575,886.37 575.5,886.22 576,886.26 576.5,886.33 577,886.42 577.5,886.38 578,886.38 578.5,886.23 579,886.12 579.5,886.08 580,886.12 580.5,886.12 581,886.09 581.5,886.14 582,886.16 582.5,886.35 583,886.5 583.5,886.62 584,886.59 584.5,886.32 585,886.24 585.5,886.46 586,886.49 586.5,886.56 587,886.37 587.5,886.27 588,886.16 588.5,886.25 589,886.24 589.5,886.27 590,886.18 590.5,886.08 591,886.15 591.5,886.38 592,886.42 592.5,886.42 593,886.24 593.5,886.26 594,886.25 594.3,885.4 595.2,881 595.6,874.4 597,846.9 597.7,805.7 598.1,760.3 598.9,743.8 599.6,766 600,819.4 600.4,846.9 601.2,843 601.9,845 601.3,852 602.4,850 602.5,856.5 603.9,867.6 605.9,875.8 608.7,881.3 612.1,883.6 612.1,884.06 612.6,884.26 613.1,884.31 613.6,884.21 614.1,884.36 614.6,884.39 615.1,884.51 615.6,884.51 616.1,884.56 616.6,884.62 617.1,884.51 617.6,884.37 618.1,884.58 618.6,884.44 619.1,884.52 619.6,884.73 620.1,884.64 620.6,884.56 621.1,884.57 621.6,884.52 622.1,884.7 622.6,884.65 623.1,884.56 623.6,884.69 624.1,884.66 624.6,884.62 625.1,884.52 625.6,884.65 626.1,884.35 626.6,883.99 627.1,883.67 627.6,883.88 628.1,884.09 628.6,884.62 629.1,885.03 629.6,885.03 630.1,885.07 630.6,885.05 631.1,885.04 631.6,885.27 632.1,885.16 632.6,885.28 633.1,885.13 633.6,885.3 634.1,885.17 634.6,885.35 635.1,885.21 635.6,885.19 636.1,885.21 636.6,885.23 637.1,885.43 637.6,885.47 638.1,885.33 638.6,885.31 639.1,885.39 639.6,885.56 640.1,885.64 640.6,885.64 641.1,885.77 641.6,885.9 642.1,885.99 642.6,886.07 643.1,886.11 643.6,886.16 644.1,886.11 644.6,886.08 645.1,886.03 645.6,885.95 646.1,886.06 646.6,885.98 647.1,886.13 647.6,886.06 648.1,885.88 648.6,886.08 649.1,886.08 649.6,885.92 650.1,886.12 650.6,886.24 651.1,886.35 651.6,886.28 652.1,886.15 652.6,886.07 653.1,886.13 653.6,886.22 654.1,886.23 654.6,886.13 655.1,886.03 655.6,886.27 656.1,886.42 656.6,886.48 657.1,886.38 657.6,886.16 658.1,886.08 658.6,886.14 659.1,886.3 659.6,886.33 660.1,886.14 660.6,886.31 661.1,886.32 661.6,886.24 662.1,886.32 662.6,886.24 663.1,886.24 663.6,886.06 664.1,885.96 664.6,886.21 665.1,886.18 665.6,886.29 666.1,886.21 666.6,886.17 667.1,886.04 667.6,886.25 668.1,886.14 668.6,886.26 669.1,886.12 669.6,886.08 670.1,885.99 670.6,886.14 671.1,886.31 671.6,886.31 672.1,886.32 672.6,886.18 673.1,886.35 673.6,886.15 674.1,886.08 674.6,886.15 675.1,886.22 675.6,886.14 676.1,886.19 676.6,886.06 677.1,885.96 677.6,886.03 678.1,886.12 678.6,886.29 679.1,886.24 679.6,886.38 680.1,886.4 680.6,886.49 681.1,886.45 681.6,886.32 682.1,886.32 682.6,886.34 683.1,886.2 683.6,886.08 684.1,886.07 684.6,886.14 685.1,886 685.6,886.03 686.1,885.97 686.6,886.22 687.1,886.19 687.6,886.22 688.1,886.09 688.6,886.11 689.1,886.31 689.6,886.38 690.1,886.46 690.6,886.23 691.1,886.35 691.6,886.4" fill="none" stroke="#000" stroke-width="1.9" stroke-linejoin="round"/>
<polyline points="446,1113.14 446.5,1113.24 447,1113.23 447.5,1112.95 448,1112.84 448.5,1112.98 449,1113.11 449.5,1112.77 450,1112.65 450.5,1112.96 451,1112.73 451.5,1112.88 452,1112.8 452.5,1112.92 453,1113.1 453.5,1113.06 454,1112.94 454.5,1112.83 455,1112.92 455.5,1112.98 456,1112.9 456.5,1112.88 457,1112.84 457.5,1112.41 458,1111.79 458.5,1111.85 459,1112.16 459.5,1112.68 460,1112.98 460.5,1113.13 461,1112.91 461.5,1112.86 462,1113.1 462.5,1112.94 463,1113.18 463.5,1112.91 464,1113.09 464.5,1112.77 465,1112.91 465.5,1113.07 466,1113.03 466.5,1113.05 467,1113.21 467.5,1113.35 468,1113 468.5,1112.97 469,1112.7 469.5,1112.72 470,1112.6 470.5,1112.54 471,1112.75 471.5,1112.59 472,1112.53 472.5,1112.42 473,1112.77 473.5,1112.62 474,1112.28 474.5,1112.13 475,1112.04 475.5,1112.22 476,1112.58 476.5,1112.84 477,1113.03 477.5,1112.89 478,1113.04 478.5,1112.9 479,1112.48 479.5,1111.74 480,1111.32 480.5,1111.6 481,1112.33 481.5,1112.91 482,1113.04 482.5,1112.75 483,1113.03 483.5,1112.82 484,1112.84 484.5,1112.84 485,1112.65 485.5,1112.79 486,1112.88 486.5,1113.05 487,1113.05 487.5,1112.89 488,1112.93 488.5,1113.16 489,1113.13 489.5,1113.22 490,1112.83 490.5,1112.96 491,1112.78 491.5,1112.65 492,1112.66 492.5,1112.57 493,1112.38 493.5,1112.03 494,1111.29 494.5,1110.62 495,1111.01 495.5,1111.59 496,1112.22 496.5,1112.4 497,1112.64 497.5,1112.61 498,1112.74 498.5,1112.67 499,1112.6 499.5,1112.71 500,1112.56 500.5,1112.9 501,1112.93 501.5,1112.86 502,1112.9 502.5,1113.14 503,1113.03 503.5,1112.84 504,1112.47 504.5,1112.13 505,1112.16 505.5,1112.37 506,1112.54 506.5,1112.99 507,1112.8 507.5,1112.77 508,1112.97 508.5,1113.16 509,1113.03 509.5,1112.72 510,1112.83 510.5,1112.82 511,1112.6 511.5,1112.64 512,1112.95 512.5,1112.68 513,1112.6 513.5,1112.54 514,1112.84 514.5,1112.76 515,1112.92 515.5,1113 516,1112.7 516.5,1112.75 517,1112.61 517.5,1112.87 518,1112.82 518.5,1112.64 519,1112.63 519.5,1112.54 520,1112.12 520.5,1112.03 521,1112.26 521.5,1112.47 522,1112.65 522.5,1112.74 523,1113.06 523.5,1113.09 524,1113.26 524.5,1113.18 525,1112.92 525.5,1112.95 526,1112.75 526.5,1112.85 527,1112.68 527.5,1113 528,1112.85 528.5,1113.08 529,1112.86 529.5,1112.72 530,1112.66 530.5,1112.93 531,1113.09 531.5,1113.14 532,1113.08 532.5,1112.8 533,1112.64 533.5,1112.33 534,1112.47 534.5,1112.02 535,1112.1 535.5,1111.95 536,1112.19 536.5,1112.58 537,1112.59 537.5,1112.51 538,1112.89 538.5,1112.78 539,1112.57 539.5,1112.81 540,1113.1 540.5,1113.05 541,1112.74 541.5,1112.76 542,1112.87 542.5,1112.75 543,1112.77 543.5,1112.95 544,1113.01 544.5,1113.14 545,1113.28 545.5,1113.14 546,1113.3 546.5,1112.94 547,1112.93 547.5,1113.01 548,1113.19 548.5,1113.06 549,1112.96 549.5,1113.14 550,1113.03 550.5,1112.75 551,1112.78 551.5,1112.71 552,1112.86 552.5,1113.03 553,1112.68 553.5,1112.53 554,1112.61 554.5,1112.52 555,1112.48 555.5,1112.41 556,1112.82 556.5,1113.08 557,1113.22 557.5,1113.14 558,1113.13 558.5,1112.84 559,1112.62 559.5,1112.48 560,1112.41 560.5,1112.61 561,1112.96 561.5,1112.98 562,1113.1 562.5,1113.15 563,1113.29 563.5,1113.01 564,1112.97 564.5,1113.16 565,1112.97 565.5,1113.05 566,1112.94 566.5,1112.74 567,1112.65 567.5,1112.67 568,1112.52 568.5,1112.87 569,1112.81 569.5,1112.71 570,1112.94 570.5,1112.66 571,1112.9 571.5,1112.87 572,1112.66 572.5,1112.69 573,1112.97 573.5,1112.56 574,1112.3 574.5,1112 575,1112.07 575.5,1112.06 576,1112.55 576.5,1112.67 577,1113.04 577.5,1112.81 578,1112.71 578.5,1112.54 579,1112.44 579.5,1112.46 580,1112.68 580.5,1112.8 581,1112.96 581.5,1112.79 582,1112.89 582.5,1113.15 583,1112.95 583.5,1112.79 584,1112.67 584.5,1113.01 585,1113.04 585.5,1112.98 586,1112.94 586.5,1112.7 587,1112.64 587.5,1112.83 588,1112.68 588.5,1112.65 589,1112.73 589.5,1112.31 590,1112.24 590.5,1112.49 591,1112.76 591.5,1113.03 592,1113.23 592.5,1113.16 593,1112.92 593.5,1112.92 594,1113.14 594.5,1112.88 595,1112.78 595.5,1112.67 596,1112.96 596.5,1112.72 597,1112.61 597.5,1112.78 597.7,1112.2 599.9,1096.8 601.3,1061.4 602,1025.9 602.7,990.5 603.4,963.5 604.1,983.4 604.8,1033 605.5,1068.5 606.3,1071 605.9,1078 607,1076 606.8,1084 607.9,1083 609.1,1092.6 610.5,1102.5 613.3,1109.6 616.9,1111.9 616.9,1112.35 617.4,1112.16 617.9,1112.32 618.4,1112.18 618.9,1112.29 619.4,1112.28 619.9,1112.47 620.4,1112.3 620.9,1112.64 621.4,1112.37 621.9,1112.21 622.4,1112.44 622.9,1112.75 623.4,1112.87 623.9,1112.93 624.4,1112.62 624.9,1112.46 625.4,1112.42 625.9,1112.37 626.4,1112.31 626.9,1112.35 627.4,1112.41 627.9,1112.4 628.4,1112.57 628.9,1112.54 629.4,1112.01 629.9,1111.89 630.4,1112.12 630.9,1112.11 631.4,1112.68 631.9,1112.82 632.4,1112.81 632.9,1112.77 633.4,1113.01 633.9,1112.96 634.4,1112.89 634.9,1113.12 635.4,1112.86 635.9,1112.85 636.4,1113.1 636.9,1113.2 637.4,1113.24 637.9,1113.28 638.4,1112.86 638.9,1112.77 639.4,1112.49 639.9,1112.59 640.4,1112.8 640.9,1112.81 641.4,1113.12 641.9,1113.07 642.4,1113.04 642.9,1113.17 643.4,1113.34 643.9,1113.39 644.4,1113.11 644.9,1112.89 645.4,1113.22 645.9,1113.21 646.4,1113.23 646.9,1113.31 647.4,1113.49 647.9,1113.49 648.4,1113.44 648.9,1113.33 649.4,1113.39 649.9,1113.45 650.4,1113.41 650.9,1113.6 651.4,1113.4 651.9,1113.57 652.4,1113.73 652.9,1113.69 653.4,1113.49 653.9,1113.45 654.4,1113.35 654.9,1113.51 655.4,1113.6 655.9,1113.35 656.4,1113.31 656.9,1113.49 657.4,1113.28 657.9,1113.46 658.4,1113.47 658.9,1113.26 659.4,1113.25 659.9,1113.52 660.4,1113.26 660.9,1113.31 661.4,1113.6 661.9,1113.41 662.4,1113.56 662.9,1113.45 663.4,1113.66 663.9,1113.78 664.4,1113.76 664.9,1113.46 665.4,1113.66 665.9,1113.48 666.4,1113.61 666.9,1113.61 667.4,1113.59 667.9,1113.46 668.4,1113.57 668.9,1113.76 669.4,1113.81 669.9,1113.82 670.4,1113.52 670.9,1113.34 671.4,1113.49 671.9,1113.43 672.4,1113.63 672.9,1113.54 673.4,1113.73 673.9,1113.34 674.4,1113.59 674.9,1113.4 675.4,1113.53 675.9,1113.53 676.4,1113.55 676.9,1113.46 677.4,1113.58 677.9,1113.7 678.4,1113.5 678.9,1113.58 679.4,1113.53 679.9,1113.56 680.4,1113.51 680.9,1113.56 681.4,1113.32 681.9,1113.3 682.4,1113.53 682.9,1113.31 683.4,1113.46 683.9,1113.41 684.4,1113.4 684.9,1113.27 685.4,1113.44 685.9,1113.25 686.4,1113.23 686.9,1113.08 687.4,1113.19 687.9,1113.04 688.4,1113.2 688.9,1113.28 689.4,1113.13 689.9,1113.03 690.4,1113.11 690.9,1113.45 691.4,1113.44 691.9,1113.48 692.4,1113.29 692.9,1113.47" fill="none" stroke="#000" stroke-width="1.9" stroke-linejoin="round"/>
</svg></body></html>
